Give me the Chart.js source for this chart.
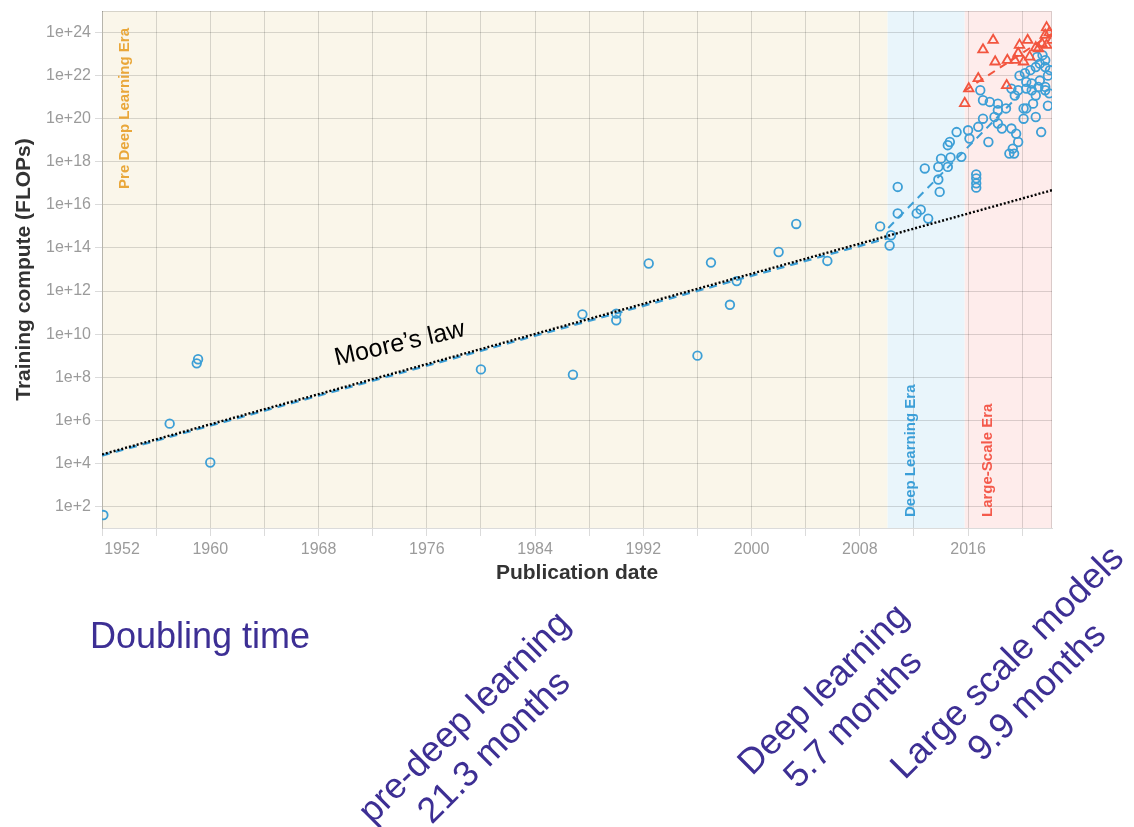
<!DOCTYPE html>
<html>
<head>
<meta charset="utf-8">
<script src="https://cdn.jsdelivr.net/npm/chart.js@4.4.0/dist/chart.umd.min.js"></script>
<style>
    html, body { margin: 0; padding: 0; background: #fff; }
    canvas { display: block; }
</style>
</head>
<body>
<canvas id="myChart" width="1134" height="827"></canvas>
<script>
// regular scale systems (blue circles)
var systemYears = [1952.1, 1957.0, 1959.0, 1959.1, 1960.0, 1980.0, 1986.8, 1987.5, 1990.0, 1990.0,
    1992.4, 1996.0, 1997.0, 1998.4, 1998.9, 2002.0, 2003.3, 2005.6, 2009.5, 2010.2,
    2010.3, 2010.8, 2010.8, 2012.2, 2012.5, 2013.05, 2012.8, 2013.8, 2013.9, 2013.8,
    2014.0, 2014.5, 2014.7, 2015.5, 2015.15, 2014.65, 2014.5, 2016.0, 2016.1, 2016.6,
    2016.6, 2016.6, 2016.6, 2016.9, 2017.1, 2017.6, 2018.2, 2018.2, 2018.8, 2017.1,
    2017.95, 2018.2, 2018.5, 2016.75, 2017.5, 2019.2, 2019.55, 2019.7, 2019.3, 2019.05,
    2019.4, 2021.4, 2020.1, 2021.0, 2020.1, 2020.3, 2020.8, 2021.0, 2020.3, 2019.7,
    2019.2, 2019.45, 2019.8, 2020.2, 2020.6, 2021.0, 2021.3, 2021.7, 2021.1, 2021.5,
    2021.7, 2021.9, 2022.05, 2021.3, 2021.7, 2020.3, 2020.7, 2021.2, 2020.7, 2021.7,
    2021.9, 2022.0];
var systemCompute = [4e1, 7e5, 4.4e8, 6.8e8, 1.1e4, 2.3e8, 1.3e8, 8.3e10, 8.9e10, 4.4e10,
    1.9e13, 1e9, 2.1e13, 2.3e11, 2.9e12, 6.5e13, 1.3e15, 2.5e13, 1e15, 1.3e14,
    3.9e14, 4e15, 6.8e16, 4e15, 6e15, 2.3e15, 4.9e17, 1.5e17, 4e16, 5.8e17,
    1.4e18, 5.8e17, 1.6e18, 1.7e18, 2.4e19, 8.3e18, 5.9e18, 2.9e19, 1.2e19, 1.7e17,
    1e17, 6.3e16, 2.6e17, 2.1e21, 7.2e20, 6e20, 5e20, 2.5e20, 3e20, 1e20,
    1.2e20, 6e19, 3.5e19, 4.2e19, 8.3e18, 3.5e19, 2e19, 8.3e18, 4.1e18, 2.4e18,
    2.4e18, 2.4e19, 1e20, 1.2e20, 3e20, 3e20, 5e20, 1.2e21, 2.5e21, 2.1e21,
    2.5e21, 1.2e21, 1e22, 1.3e22, 1.8e22, 2.5e22, 3.6e22, 5.2e22, 7.4e22, 8.9e22,
    2.5e22, 1e22, 1.8e22, 5.9e21, 3e21, 5.1e21, 4.3e21, 3e21, 2.1e21, 2.1e21,
    4e20, 1.5e21];
// large scale systems (red triangles)
var largeYears = [2017.85, 2017.1, 2018.0, 2016.75, 2016.05, 2015.75, 2018.85, 2019.8, 2020.4, 2021.8,
    2021.7, 2021.45, 2021.8, 2021.2, 2022.2, 2019.7, 2019.45, 2020.1, 2020.55, 2018.9,
    2022.0, 2021.0];
var largeCompute = [4.4e23, 1.6e23, 4.4e22, 7.4e21, 2.5e21, 5.2e20, 3.5e21, 2.6e23, 4.4e23, 1.7e24,
    7.6e23, 3.1e23, 2.6e23, 1.8e23, 4.4e23, 1.1e23, 5.2e22, 4.4e22, 7.4e22, 5.2e22,
    1e24, 2e23];
// trend lines (end points)
var mooreYears = [1952, 2022.2];
var mooreCompute = [2.6e4, 4.8e16];
var preDlYears = [1952, 2010.1];
var preDlCompute = [2.3e4, 2.9e14];
var dlYears = [2010.1, 2019.8];
var dlCompute = [8.5e14, 1.3e21];
var lsYears = [2015.75, 2022.2];
var lsCompute = [2e21, 8.9e23];
// eras
var eraNames = ['Pre Deep Learning Era', 'Deep Learning Era', 'Large-Scale Era'];
var eraStart = [1952, 2010.05, 2015.75];
var eraEnd = [2010.05, 2015.75, 2022.2];
// axes
var xTickYears = [1952, 1956, 1960, 1964, 1968, 1972, 1976, 1980, 1984, 1988, 1992, 1996, 2000, 2004, 2008, 2012, 2016, 2020];
var xLabelYears = [1952, 1960, 1968, 1976, 1984, 1992, 2000, 2008, 2016];
var yTickValues = [1e2, 1e4, 1e6, 1e8, 1e10, 1e12, 1e14, 1e16, 1e18, 1e20, 1e22, 1e24];
// doubling time notes
var doublingNames = ['pre-deep learning', 'Deep learning', 'Large scale models'];
var doublingMonths = [21.3, 5.7, 9.9];

var FONT = "'Liberation Sans', Arial, Helvetica, sans-serif";
var BLUE = '#3d9fd6';
var RED = '#f2553f';
var GRID = 'rgba(0,0,0,0.14)';
var NOTE = '#3d2f94';
var eraFill = ['#faf6ea', '#e9f5fb', '#feeceb'];
var eraText = ['#e9a73a', '#3b9fd8', '#f45a4c'];

function toPoints(xs, ys) {
    return xs.map(function (x, i) { return { x: x, y: ys[i] }; });
}

var eraPlugin = {
    id: 'eras',
    beforeDraw: function (chart) {
        var ctx = chart.ctx, area = chart.chartArea, xs = chart.scales.x;
        ctx.save();
        ctx.fillStyle = '#fff';
        ctx.fillRect(0, 0, chart.width, chart.height);
        eraNames.forEach(function (name, i) {
            var x0 = Math.max(xs.getPixelForValue(eraStart[i]), area.left);
            var x1 = Math.min(xs.getPixelForValue(eraEnd[i]), area.right);
            ctx.fillStyle = eraFill[i];
            ctx.fillRect(x0, area.top, x1 - x0, area.bottom - area.top);
        });
        ctx.restore();
    },
    beforeDatasetsDraw: function (chart) {
        var ctx = chart.ctx, area = chart.chartArea, xs = chart.scales.x;
        ctx.save();
        // frame top / right
        ctx.strokeStyle = GRID;
        ctx.lineWidth = 1;
        ctx.beginPath();
        ctx.moveTo(area.left, area.top + 0.5);
        ctx.lineTo(area.right - 0.5, area.top + 0.5);
        ctx.lineTo(area.right - 0.5, area.bottom);
        ctx.stroke();
        // era names, vertical
        ctx.font = 'bold 15px ' + FONT;
        ctx.textBaseline = 'middle';
        eraNames.forEach(function (name, i) {
            var x = xs.getPixelForValue(eraStart[i]) + 23;
            ctx.save();
            ctx.translate(x, i === 0 ? area.top + 17 : area.bottom - 11);
            ctx.rotate(-Math.PI / 2);
            ctx.textAlign = i === 0 ? 'right' : 'left';
            ctx.fillStyle = eraText[i];
            ctx.fillText(name, 0, 0);
            ctx.restore();
        });
        ctx.restore();
    },
    afterDraw: function (chart) {
        var ctx = chart.ctx, xs = chart.scales.x, ys = chart.scales.y;
        ctx.save();
        // Moore's law label
        ctx.translate(xs.getPixelForValue(1974), ys.getPixelForValue(3.5e9));
        ctx.rotate(-13 * Math.PI / 180);
        ctx.font = '25px ' + FONT;
        ctx.fillStyle = '#000';
        ctx.textAlign = 'center';
        ctx.textBaseline = 'middle';
        ctx.fillText('Moore\u2019s law', 0, 0);
        ctx.restore();

        ctx.save();
        ctx.fillStyle = NOTE;
        ctx.font = '36px ' + FONT;
        ctx.textBaseline = 'alphabetic';
        ctx.fillText('Doubling time', 90, 648);
        var centers = [[480, 733], [839, 705], [1023, 678]];
        ctx.textAlign = 'center';
        ctx.textBaseline = 'middle';
        doublingNames.forEach(function (name, i) {
            ctx.save();
            ctx.translate(centers[i][0], centers[i][1]);
            ctx.rotate(-Math.PI / 4);
            ctx.fillText(name, 0, -21);
            ctx.fillText(doublingMonths[i] + ' months', 0, 21);
            ctx.restore();
        });
        ctx.restore();
    }
};

Chart.defaults.font.family = FONT;

var ctx = document.getElementById('myChart');
var myChart = new Chart(ctx, {
    type: 'scatter',
    data: {
        datasets: [{
            label: "Moore's law",
            data: toPoints(mooreYears, mooreCompute),
            showLine: true,
            pointRadius: 0,
            borderColor: '#000',
            borderWidth: 2.4,
            borderDash: [2, 2],
            clip: 0
        }, {
            label: 'Large scale',
            data: toPoints(largeYears, largeCompute),
            pointStyle: 'triangle',
            pointRadius: 5.5,
            borderColor: RED,
            backgroundColor: 'rgba(0,0,0,0)',
            borderWidth: 1.8,
            clip: 0
        }, {
            label: 'Regular scale',
            data: toPoints(systemYears, systemCompute),
            pointStyle: 'circle',
            pointRadius: 4.3,
            borderColor: BLUE,
            backgroundColor: 'rgba(0,0,0,0)',
            borderWidth: 1.8,
            clip: 0
        }, {
            label: 'Large scale trend',
            data: toPoints(lsYears, lsCompute),
            showLine: true,
            pointRadius: 0,
            borderColor: RED,
            borderWidth: 2,
            borderDash: [8, 6],
            clip: 0
        }, {
            label: 'Deep learning trend',
            data: toPoints(dlYears, dlCompute),
            showLine: true,
            pointRadius: 0,
            borderColor: BLUE,
            borderWidth: 2,
            borderDash: [8, 6],
            clip: 0
        }, {
            label: 'Pre deep learning trend',
            data: toPoints(preDlYears, preDlCompute),
            showLine: true,
            pointRadius: 0,
            borderColor: BLUE,
            borderWidth: 2.4,
            borderDash: [8, 6],
            clip: 0
        }]
    },
    options: {
        responsive: false,
        animation: false,
        events: [],
        layout: { padding: { top: 11, right: 82, bottom: 239, left: 0 } },
        plugins: {
            legend: { display: false },
            tooltip: { enabled: false }
        },
        scales: {
            x: {
                type: 'linear',
                min: 1952,
                max: 2022.2,
                afterBuildTicks: function (scale) {
                    scale.ticks = xTickYears.map(function (v) { return { value: v }; });
                },
                afterFit: function (scale) {
                    scale.height = 60;
                    scale.paddingLeft = 0;
                    scale.paddingRight = 0;
                },
                grid: { color: GRID, tickLength: 8, tickColor: GRID },
                border: { color: GRID },
                ticks: {
                    autoSkip: false,
                    maxRotation: 0,
                    padding: 4,
                    color: '#9b9b9b',
                    font: { size: 16 },
                    callback: function (value) {
                        if (xLabelYears.indexOf(value) < 0) return '';
                        // first label sits inside the plot edge
                        return value === xLabelYears[0] ? '         ' + value : String(value);
                    }
                },
                title: {
                    display: true,
                    text: 'Publication date',
                    color: '#333',
                    font: { size: 21, weight: 'bold' },
                    padding: { top: 0, bottom: 2 }
                }
            },
            y: {
                type: 'logarithmic',
                min: 1e1,
                max: 1e25,
                afterBuildTicks: function (scale) {
                    scale.ticks = yTickValues.map(function (v) { return { value: v }; });
                },
                afterFit: function (scale) {
                    scale.width = 102;
                    scale.paddingTop = 0;
                    scale.paddingBottom = 0;
                },
                grid: { color: GRID, tickLength: 7, tickColor: GRID },
                border: { color: GRID },
                ticks: {
                    autoSkip: false,
                    padding: 4,
                    color: '#9b9b9b',
                    font: { size: 16 },
                    callback: function (value) {
                        return '1e+' + Math.round(Math.log10(value));
                    }
                },
                title: {
                    display: true,
                    text: 'Training compute (FLOPs)',
                    color: '#333',
                    font: { size: 21, weight: 'bold' },
                    padding: { top: 12, bottom: 0 }
                }
            }
        }
    },
    plugins: [eraPlugin]
});
</script>
</body>
</html>
